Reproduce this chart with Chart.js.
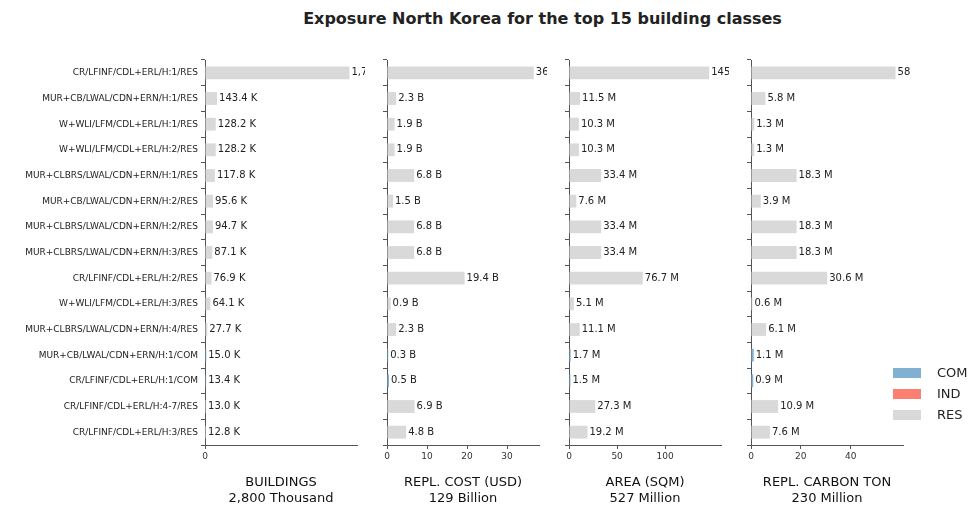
<!DOCTYPE html>
<html>
<head>
<meta charset="UTF-8">
<script src="https://cdn.jsdelivr.net/npm/chart.js"></script>
<style>
  body { margin: 0; width: 980px; height: 510px; position: relative; background: #fff; font-family: 'DejaVu Sans', sans-serif; }
  h1 { position: absolute; top: 9px; left: 205px; width: 675px; text-align: center; margin: 0; font-size: 16px; font-weight: bold; color: #222; }
  canvas { position: absolute; top: 0; }
  .legend { position: absolute; left: 893px; top: 362px; font-size: 13px; color: #222; }
  .legend div { height: 21px; display: flex; align-items: center; }
  .legend span { display: inline-block; width: 28px; height: 10px; margin-right: 16px; }
</style>
</head>
<body>
<h1>Exposure North Korea for the top 15 building classes</h1>
<canvas id="c0" style="left:0px" width="365" height="510"></canvas>
<canvas id="c1" style="left:357px" width="190" height="510"></canvas>
<canvas id="c2" style="left:539px" width="190" height="510"></canvas>
<canvas id="c3" style="left:721px" width="190" height="510"></canvas>
<div class="legend">
  <div><span style="background:#80b1d3"></span>COM</div>
  <div><span style="background:#fb8072"></span>IND</div>
  <div><span style="background:#d9d9d9"></span>RES</div>
</div>
<script>
const classes = [
  'CR/LFINF/CDL+ERL/H:1/RES', 'MUR+CB/LWAL/CDN+ERN/H:1/RES', 'W+WLI/LFM/CDL+ERL/H:1/RES',
  'W+WLI/LFM/CDL+ERL/H:2/RES', 'MUR+CLBRS/LWAL/CDN+ERN/H:1/RES', 'MUR+CB/LWAL/CDN+ERN/H:2/RES',
  'MUR+CLBRS/LWAL/CDN+ERN/H:2/RES', 'MUR+CLBRS/LWAL/CDN+ERN/H:3/RES', 'CR/LFINF/CDL+ERL/H:2/RES',
  'W+WLI/LFM/CDL+ERL/H:3/RES', 'MUR+CLBRS/LWAL/CDN+ERN/H:4/RES', 'MUR+CB/LWAL/CDN+ERN/H:1/COM',
  'CR/LFINF/CDL+ERL/H:1/COM', 'CR/LFINF/CDL+ERL/H:4-7/RES', 'CR/LFINF/CDL+ERL/H:3/RES'
];
const buildings = [1720.1, 143.4, 128.2, 128.2, 117.8, 95.6, 94.7, 87.1, 76.9, 64.1, 27.7, 15.0, 13.4, 13.0, 12.8];
const cost = [36.7, 2.3, 1.9, 1.9, 6.8, 1.5, 6.8, 6.8, 19.4, 0.9, 2.3, 0.3, 0.5, 6.9, 4.8];
const area = [145.7, 11.5, 10.3, 10.3, 33.4, 7.6, 33.4, 33.4, 76.7, 5.1, 11.1, 1.7, 1.5, 27.3, 19.2];
const carbon = [58.0, 5.8, 1.3, 1.3, 18.3, 3.9, 18.3, 18.3, 30.6, 0.6, 6.1, 1.1, 0.9, 10.9, 7.6];

const colors = { COM: '#80b1d3', IND: '#fb8072', RES: '#d9d9d9' };
const barColors = classes.map(c => colors[c.split('/').pop()]);

const fmtComma = v => v.toLocaleString('en-US', {minimumFractionDigits: 1, maximumFractionDigits: 1});
const fmtFixed = v => v.toFixed(1);

const panels = [
  { id: 'c0', data: buildings, unit: 'K', fmt: fmtComma, max: 1810, step: 500, title: ['BUILDINGS', '2,800 Thousand'], yw: 205, labels: true },
  { id: 'c1', data: cost, unit: 'B', fmt: fmtFixed, max: 38, step: 10, title: ['REPL. COST (USD)', '129 Billion'], yw: 30 },
  { id: 'c2', data: area, unit: 'M', fmt: fmtFixed, max: 158, step: 50, title: ['AREA (SQM)', '527 Million'], yw: 30 },
  { id: 'c3', data: carbon, unit: 'M', fmt: fmtFixed, max: 61, step: 20, title: ['REPL. CARBON TON', '230 Million'], yw: 30 }
];

panels.forEach(p => {
  const valueLabels = {
    id: 'valueLabels',
    afterDatasetsDraw(chart) {
      const ctx = chart.ctx;
      ctx.save();
      ctx.font = '10px "DejaVu Sans"';
      ctx.fillStyle = '#222';
      ctx.textBaseline = 'middle';
      chart.getDatasetMeta(0).data.forEach((bar, i) => {
        ctx.fillText(p.fmt(p.data[i]) + ' ' + p.unit, bar.x + 2, bar.y);
      });
      ctx.restore();
    }
  };
  new Chart(document.getElementById(p.id), {
    type: 'bar',
    data: { labels: classes, datasets: [{ data: p.data, backgroundColor: barColors, barPercentage: 0.5, categoryPercentage: 1 }] },
    options: {
      indexAxis: 'y',
      responsive: false,
      animation: false,
      layout: { padding: { top: 60, right: 8 } },
      plugins: { legend: { display: false }, tooltip: { enabled: false } },
      scales: {
        x: {
          min: 0, max: p.max,
          afterFit: s => { s.height = 65; },
          afterBuildTicks: s => { s.ticks = s.ticks.filter(t => t.value % p.step === 0); },
          border: { color: '#555' },
          grid: { drawOnChartArea: false, tickLength: 4, color: '#555' },
          ticks: { stepSize: p.step, autoSkip: false, maxRotation: 0, color: '#333', font: { size: 9, family: 'DejaVu Sans' }, padding: 2 },
          title: { display: true, text: p.title, color: '#111', font: { size: 13, family: 'DejaVu Sans' }, padding: { top: 4 } }
        },
        y: {
          afterFit: s => { s.width = p.yw; },
          border: { color: '#555' },
          grid: { drawOnChartArea: false, tickLength: 4, color: '#555' },
          ticks: { display: !!p.labels, color: '#222', font: { size: 9, family: 'DejaVu Sans' }, padding: 3 }
        }
      }
    },
    plugins: [valueLabels]
  });
});
</script>
</body>
</html>
